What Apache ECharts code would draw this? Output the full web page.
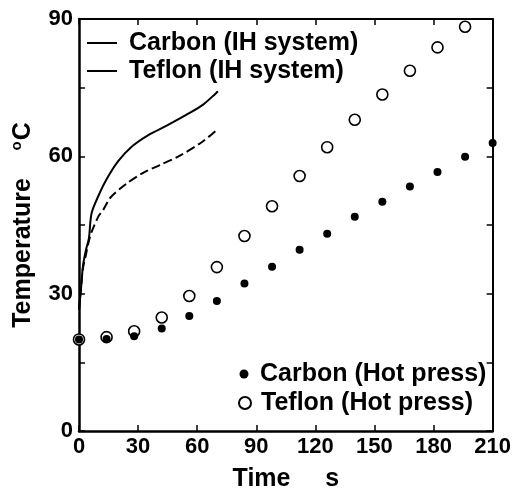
<!DOCTYPE html>
<html>
<head>
<meta charset="utf-8">
<script src="https://cdn.jsdelivr.net/npm/echarts@6/dist/echarts.min.js"></script>
<style>html,body{margin:0;padding:0;background:#fff;}#c{width:514px;height:497px;}</style>
</head>
<body>
<div id="c"></div>
<script>
// Hot press measurements (time in s, temperature in °C)
var hotTime = [0, 14, 28, 42, 56, 70, 84, 98, 112, 126, 140, 154, 168, 182, 196, 210];
var carbonHot = [20.0, 20.1, 20.7, 22.4, 25.1, 28.4, 32.2, 35.9, 39.6, 43.1, 46.8, 50.1, 53.4, 56.6, 59.9, 62.9];
var teflonHot = [20.0, 20.5, 21.8, 24.8, 29.5, 35.8, 42.6, 49.1, 55.7, 62.0, 68.0, 73.5, 78.7, 83.8, 88.3];
// IH system curves
var carbonIHTime = [0, 1, 2, 3.5, 5, 6.4, 10, 14, 20, 27, 35, 44.5, 54.6, 63, 70.5];
var carbonIHTemp = [26.5, 31, 36, 39.5, 42, 47.6, 51.5, 55, 59, 62.2, 64.6, 66.7, 69.1, 71.3, 74.2];
var teflonIHTime = [0, 1, 2, 3.5, 5, 6.4, 10, 12.3, 16, 24, 32.6, 41, 51, 63, 70.5];
var teflonIHTemp = [26.5, 31, 35.5, 38.5, 41.5, 43.5, 47, 48.3, 51, 54, 56.4, 58.1, 60.1, 63.3, 66];
var xTicks = {min: 0, max: 210, step: 30};
var yTicks = {min: 0, max: 90, step: 15, labelStep: 30};

function pairs(xs, ys) { return ys.map(function (v, i) { return [xs[i], v]; }); }

var FF = 'Liberation Sans, Arial, sans-serif';
var chart = echarts.init(document.getElementById('c'), null, {renderer: 'canvas'});
var axisCommon = {
  type: 'value', splitLine: {show: false},
  axisTick: {inside: true, length: 6, lineStyle: {color: '#000', width: 1.5}}
};
chart.setOption({
  backgroundColor: '#fff',
  animation: false,
  grid: {left: 79, right: 21, top: 19, bottom: 64, containLabel: false},
  xAxis: [
    Object.assign({}, axisCommon, {
      position: 'bottom', min: xTicks.min, max: xTicks.max, interval: xTicks.step,
      name: 'Time     s', nameLocation: 'middle', nameGap: 36,
      nameTextStyle: {fontFamily: FF, fontWeight: 'bold', fontSize: 25, color: '#000'},
      axisLine: {onZero: false, lineStyle: {color: '#000', width: 2.5}},
      axisLabel: {margin: 5, fontFamily: FF, fontWeight: 'bold', fontSize: 22, color: '#000'}
    }),
    Object.assign({}, axisCommon, {
      position: 'top', min: xTicks.min, max: xTicks.max, interval: xTicks.step,
      axisLine: {onZero: false, lineStyle: {color: '#000', width: 2}},
      axisLabel: {show: false}
    })
  ],
  yAxis: [
    Object.assign({}, axisCommon, {
      position: 'left', min: yTicks.min, max: yTicks.max, interval: yTicks.step,
      name: '{t|Temperature    }{s|o}{t|C}', nameLocation: 'middle', nameGap: 41,
      nameTextStyle: {
        color: '#000',
        rich: {
          t: {fontFamily: FF, fontWeight: 'bold', fontSize: 25, color: '#000'},
          s: {fontFamily: FF, fontWeight: 'bold', fontSize: 15, color: '#000', padding: [0, 1, 14, 0]}
        }
      },
      axisLine: {onZero: false, lineStyle: {color: '#000', width: 2.5}},
      axisLabel: {
        margin: 6, fontFamily: FF, fontWeight: 'bold', fontSize: 22, color: '#000',
        formatter: function (v) { return v % yTicks.labelStep === 0 ? String(v) : ''; }
      }
    }),
    Object.assign({}, axisCommon, {
      position: 'right', min: yTicks.min, max: yTicks.max, interval: yTicks.step,
      axisLine: {onZero: false, lineStyle: {color: '#000', width: 2}},
      axisLabel: {show: false}
    })
  ],
  legend: [
    {
      orient: 'vertical', left: 87, top: 29, padding: 0, itemGap: 0,
      itemWidth: 30, itemHeight: 2, icon: 'rect',
      textStyle: {fontFamily: FF, fontWeight: 'bold', fontSize: 25, color: '#000', lineHeight: 28, padding: [0, 0, 0, 7]},
      data: [
        {name: 'Carbon (IH system)', icon: 'rect', itemStyle: {color: '#000'}},
        {name: 'Teflon (IH system)', icon: 'rect', itemStyle: {color: '#000'}}
      ]
    },
    {
      orient: 'vertical', left: 239.5, top: 360, padding: 0,
      itemWidth: 9, itemHeight: 9,
      textStyle: {fontFamily: FF, fontWeight: 'bold', fontSize: 25, color: '#000', lineHeight: 28, padding: [0, 0, 0, 6.5]},
      data: ['Carbon (Hot press)']
    },
    {
      orient: 'vertical', left: 238, top: 389, padding: 0,
      itemWidth: 12, itemHeight: 12,
      textStyle: {fontFamily: FF, fontWeight: 'bold', fontSize: 25, color: '#000', lineHeight: 28, padding: [0, 0, 0, 5]},
      data: ['Teflon (Hot press)']
    }
  ],
  series: [
    {
      name: 'Carbon (IH system)', type: 'line', symbol: 'none', smooth: 0.3,
      lineStyle: {color: '#000', width: 2}, itemStyle: {color: '#000'},
      data: pairs(carbonIHTime, carbonIHTemp), z: 3
    },
    {
      name: 'Teflon (IH system)', type: 'line', symbol: 'none', smooth: 0.3,
      lineStyle: {color: '#000', width: 2, type: [9, 4]}, itemStyle: {color: '#000'},
      data: pairs(teflonIHTime, teflonIHTemp), z: 3
    },
    {
      name: 'Teflon (Hot press)', type: 'scatter', symbol: 'circle', symbolSize: 11,
      itemStyle: {color: '#fff', borderColor: '#000', borderWidth: 1.6, opacity: 1},
      data: pairs(hotTime, teflonHot), z: 4
    },
    {
      name: 'Carbon (Hot press)', type: 'scatter', symbol: 'circle', symbolSize: 8,
      itemStyle: {color: '#000', opacity: 1},
      data: pairs(hotTime, carbonHot), z: 5, clip: false
    }
  ]
});
</script>
</body>
</html>
